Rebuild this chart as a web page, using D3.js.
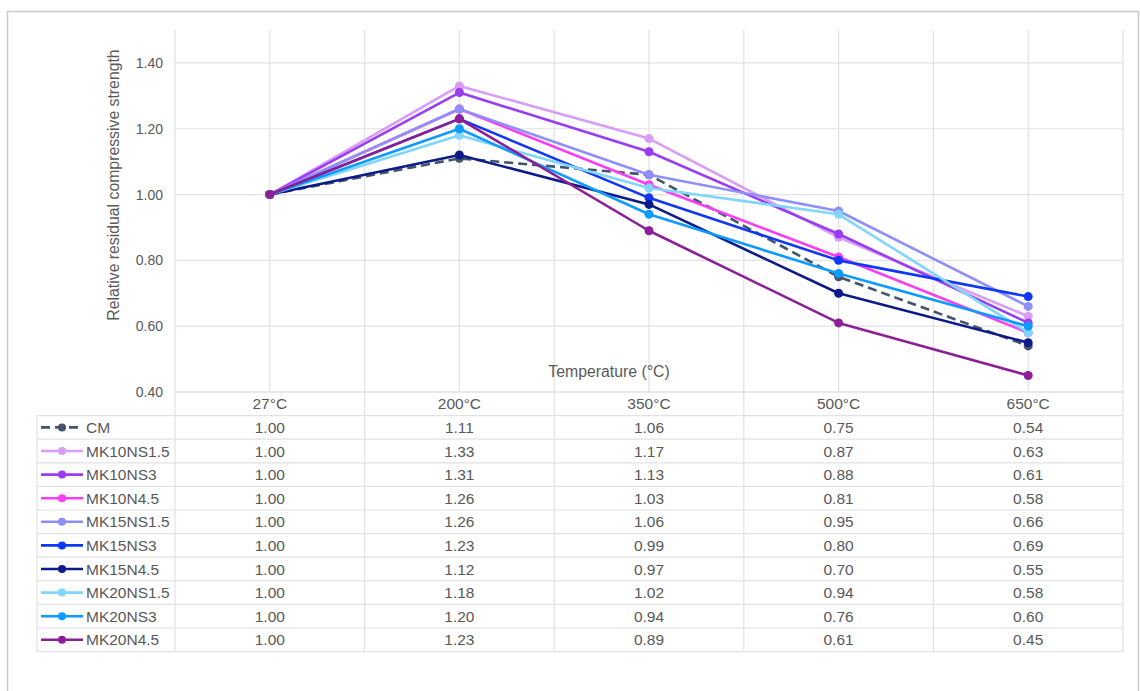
<!DOCTYPE html>
<html>
<head>
<meta charset="utf-8">
<script src="https://cdn.jsdelivr.net/npm/d3@7"></script>
<style>
  body { margin: 0; background: #fff; }
  text { font-family: "Liberation Sans", Arial, Helvetica, sans-serif; fill: #595959; }
</style>
</head>
<body>
<div id="viz-container"></div>
<script>
// Data
let temperatures = ['27°C', '200°C', '350°C', '500°C', '650°C'];
let seriesNames = ['CM', 'MK10NS1.5', 'MK10NS3', 'MK10N4.5', 'MK15NS1.5',
                   'MK15NS3', 'MK15N4.5', 'MK20NS1.5', 'MK20NS3', 'MK20N4.5'];
let cmValues       = [1.00, 1.11, 1.06, 0.75, 0.54];
let mk10ns15Values = [1.00, 1.33, 1.17, 0.87, 0.63];
let mk10ns3Values  = [1.00, 1.31, 1.13, 0.88, 0.61];
let mk10n45Values  = [1.00, 1.26, 1.03, 0.81, 0.58];
let mk15ns15Values = [1.00, 1.26, 1.06, 0.95, 0.66];
let mk15ns3Values  = [1.00, 1.23, 0.99, 0.80, 0.69];
let mk15n45Values  = [1.00, 1.12, 0.97, 0.70, 0.55];
let mk20ns15Values = [1.00, 1.18, 1.02, 0.94, 0.58];
let mk20ns3Values  = [1.00, 1.20, 0.94, 0.76, 0.60];
let mk20n45Values  = [1.00, 1.23, 0.89, 0.61, 0.45];
let yTicks = [0.40, 0.60, 0.80, 1.00, 1.20, 1.40];

let seriesColors = ['#44546a', '#d99cf7', '#9a3cf2', '#fb3cf5', '#8f8ffc',
                    '#0f37f5', '#0c1a8a', '#80d6ff', '#0d9bff', '#8c1f98'];

let series = seriesNames.map((name, i) => ({
    name: name,
    color: seriesColors[i],
    dashed: name === 'CM',
    values: [cmValues, mk10ns15Values, mk10ns3Values, mk10n45Values, mk15ns15Values,
             mk15ns3Values, mk15n45Values, mk20ns15Values, mk20ns3Values, mk20n45Values][i]
}));

const width = 1140, height = 691;
const plotLeft = 175, plotRight = 1123, plotTop = 30, plotBottom = 392;
const rowH = 23.6;
const legendLeft = 37;
const gridColor = '#e2e2e2';
const tableFont = '15.5px';

let svg = d3.select('#viz-container').append('svg')
    .attr('width', width).attr('height', height);

// Outer frame
svg.append('rect')
    .attr('x', 7.5).attr('y', 11.5)
    .attr('width', 1131).attr('height', 700)
    .attr('fill', 'none').attr('stroke', '#c9c9c9').attr('stroke-width', 1.5);

let x = d3.scaleBand().domain(temperatures).range([plotLeft, plotRight]);
let xc = t => x(t) + x.bandwidth() / 2;
let y = d3.scaleLinear().domain([0.4, 1.5]).range([plotBottom, plotTop]);

// Grid
let grid = svg.append('g').attr('class', 'grid');
grid.selectAll('line.h').data(yTicks).enter().append('line')
    .attr('x1', plotLeft).attr('x2', plotRight)
    .attr('y1', d => y(d)).attr('y2', d => y(d))
    .attr('stroke', gridColor).attr('stroke-width', 1.2);

let vEdges = temperatures.map(t => x(t)).concat([plotRight]);
let vCenters = temperatures.map(xc);
grid.selectAll('line.v').data(vEdges.concat(vCenters)).enter().append('line')
    .attr('x1', d => d).attr('x2', d => d)
    .attr('y1', plotTop).attr('y2', plotBottom)
    .attr('stroke', gridColor).attr('stroke-width', 1.2);

// Y axis labels
let yAxis = d3.axisLeft(y).tickValues(yTicks).tickFormat(d3.format('.2f')).tickSize(0).tickPadding(12);
let yG = svg.append('g').attr('transform', 'translate(' + plotLeft + ',0)').call(yAxis);
yG.select('.domain').remove();
yG.selectAll('text').style('font-size', '14px').attr('fill', null)
    .style('font-family', '"Liberation Sans", Arial, sans-serif');

// Axis titles
svg.append('text')
    .attr('transform', 'translate(119,185) rotate(-90)')
    .attr('text-anchor', 'middle')
    .style('font-size', '15.8px')
    .text('Relative residual compressive strength');

svg.append('text')
    .attr('x', 609).attr('y', 377)
    .attr('text-anchor', 'middle')
    .style('font-size', '15.8px')
    .text('Temperature (°C)');

// Lines and markers
let line = d3.line()
    .x((d, i) => xc(temperatures[i]))
    .y(d => y(d));

let lines = svg.append('g').attr('class', 'series');
series.forEach(s => {
    let g = lines.append('g');
    g.append('path')
        .datum(s.values)
        .attr('d', line)
        .attr('fill', 'none')
        .attr('stroke', s.color)
        .attr('stroke-width', 2.6)
        .attr('stroke-linejoin', 'round')
        .attr('stroke-dasharray', s.dashed ? '9,5' : null);
    g.selectAll('circle').data(s.values).enter().append('circle')
        .attr('cx', (d, i) => xc(temperatures[i]))
        .attr('cy', d => y(d))
        .attr('r', 4.5)
        .attr('fill', s.color);
});

// Data table below the plot
let table = svg.append('g').attr('class', 'table');
let tableBottom = plotBottom + rowH * (series.length + 1);

// header row
table.selectAll('text.head').data(temperatures).enter().append('text')
    .attr('x', xc).attr('y', plotBottom + rowH / 2).attr('dy', '0.36em')
    .attr('text-anchor', 'middle').style('font-size', tableFont)
    .text(d => d);

// horizontal rules
let hRows = d3.range(series.length + 2).map(i => plotBottom + i * rowH);
table.selectAll('line.h').data(hRows).enter().append('line')
    .attr('x1', (d, i) => i === 0 ? plotLeft : legendLeft).attr('x2', plotRight)
    .attr('y1', d => d).attr('y2', d => d)
    .attr('stroke', gridColor).attr('stroke-width', 1.2);

// vertical rules
table.selectAll('line.v').data(vEdges).enter().append('line')
    .attr('x1', d => d).attr('x2', d => d)
    .attr('y1', plotBottom).attr('y2', tableBottom)
    .attr('stroke', gridColor).attr('stroke-width', 1.2);
table.append('line')
    .attr('x1', legendLeft).attr('x2', legendLeft)
    .attr('y1', plotBottom + rowH).attr('y2', tableBottom)
    .attr('stroke', gridColor).attr('stroke-width', 1.2);

series.forEach((s, r) => {
    let cy = plotBottom + rowH * (r + 1.5);
    let row = table.append('g');
    row.append('line')
        .attr('x1', 41).attr('x2', 83).attr('y1', cy).attr('y2', cy)
        .attr('stroke', s.color).attr('stroke-width', 2.6)
        .attr('stroke-dasharray', s.dashed ? '9,5' : null);
    row.append('circle').attr('cx', 62).attr('cy', cy).attr('r', 4).attr('fill', s.color);
    row.append('text').attr('x', 86).attr('y', cy).attr('dy', '0.36em')
        .style('font-size', tableFont).text(s.name);
    row.selectAll('text.v').data(s.values).enter().append('text')
        .attr('x', (d, i) => xc(temperatures[i])).attr('y', cy).attr('dy', '0.36em')
        .attr('text-anchor', 'middle').style('font-size', tableFont)
        .text(d => d3.format('.2f')(d));
});
</script>
</body>
</html>
